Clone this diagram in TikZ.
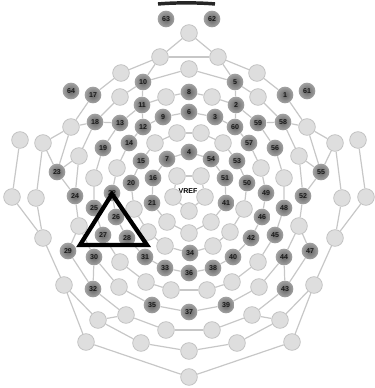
\documentclass[tikz,border=0pt]{standalone}
\usepackage{fontspec}
\setsansfont{Liberation Sans}
\usetikzlibrary{backgrounds}
\begin{document}
\begin{tikzpicture}[x=0.75pt,y=-0.75pt,
  lab/.style={circle, minimum size=12.5pt, inner sep=0pt, inner color=black!60, outer color=black!36,
    font=\sffamily\bfseries\fontsize{5.3}{6}\selectfont, text=black!90},
  unl/.style={circle, minimum size=12.5pt, inner sep=0pt, fill=black!13, draw=black!24, line width=0.6pt},
  wire/.style={draw=black!22, line width=0.9pt},
  tri/.style={draw=black, line width=3.2pt, line join=miter},
  nose/.style={draw=black!85, line width=2.6pt}]
\useasboundingbox (0,0) rectangle (374,388);
% centre column
\node[unl] (T) at (189,33) {};
\node[unl] (c69) at (189,69) {};
\node[lab] (c8) at (189,92) {8};
\node[lab] (c6) at (189,112) {6};
\node[lab] (c4) at (189,152) {4};
\node[font=\sffamily\bfseries\fontsize{5.3}{6}\selectfont, inner sep=0.5pt] (vref) at (188,191) {VREF};
\node[unl] (c211) at (189,211) {};
\node[unl] (c233) at (189,233) {};
\node[lab] (c34) at (190,253) {34};
\node[lab] (c36) at (189,273) {36};
\node[lab] (c37) at (189,312) {37};
\node[unl] (c350) at (189,351) {};
\node[unl] (c377) at (189,377) {};
% labelled pairs: key(left label)/right label/x/y
\foreach \k/\r/\x/\y in {10/5/143/82, 11/2/142/105, 9/3/163/117, 12/60/143/127, 13/59/120/123,
  17/1/93/95, 64/61/71/91, 18/58/95/122, 14/57/129/143, 19/56/103/148, 7/54/167/159,
  15/53/141/161, 16/51/153/178, 20/50/131/183, 23/55/57/172, 22/49/112/193, 24/52/75/196,
  21/41/152/203, 26/46/116/217, 25/48/94/208, 28/42/127/238, 27/45/103/235, 29/47/68/251,
  30/44/94/257, 31/40/145/257, 33/38/165/268, 32/43/93/289, 35/39/152/305, 63/62/166/19}{
  \node[lab] (L-\k) at (\x,\y) {\k};
  \node[lab] (R-\k) at ({378-\x},\y) {\r};
}
% unlabelled pairs
\foreach \k/\x/\y in {uA/160/57, uB/121/73, uC/120/97, uD/166/97, uE/71/127, uF/20/140, uG/43/143,
  uH/155/143, uI/177/133, uJ/79/156, uK/117/168, uL/94/178, uM/177/176, uN/12/197, uO/36/198,
  uP/173/197, uQ/134/209, uR/79/226, uS/167/222, uT/148/232, uU/43/238, uV/120/262, uW/165/246,
  uX/64/285, uY/119/287, uZ/146/282, ua/171/290, ub/126/315, uc/98/320, ud/166/330, ue/86/342,
  uf/141/343}{
  \node[unl] (L-\k) at (\x,\y) {};
  \node[unl] (R-\k) at ({378-\x},\y) {};
}
\begin{scope}[on background layer]
\draw[wire] (L-uM) -- (R-uM) (L-ua) -- (R-ua) (L-uA) -- (R-uA) (L-ud) -- (R-ud) (L-uI) -- (R-uI);
\foreach \S in {L,R}{
  \draw[wire] (\S-uM) -- (\S-uP) -- (c211);
  \draw[wire] (c4) -- (\S-7) -- (\S-16) -- (\S-21) -- (\S-uS) -- (c233);
  \draw[wire] (\S-uI) -- (\S-uH) -- (\S-15) -- (\S-20) -- (\S-uQ) -- (\S-uT) -- (\S-uW) -- (c34);
  \draw[wire] (c6) -- (\S-9) -- (\S-12) -- (\S-14) -- (\S-uK) -- (\S-22) -- (\S-26) -- (\S-28) -- (\S-31) -- (\S-33) -- (c36);
  \draw[wire] (c8) -- (\S-uD) -- (\S-11) -- (\S-13) -- (\S-19) -- (\S-uL) -- (\S-25) -- (\S-27) -- (\S-uV) -- (\S-uZ) -- (\S-ua);
  \draw[wire] (c69) -- (\S-10) -- (\S-uC) -- (\S-18) -- (\S-uJ) -- (\S-24) -- (\S-uR) -- (\S-30) -- (\S-uY) -- (\S-35) -- (c37);
  \draw[wire] (T) -- (\S-uA) -- (\S-uB) -- (\S-17) -- (\S-uE) -- (\S-23) -- (\S-24);
  \draw[wire] (\S-uR) -- (\S-29) -- (\S-32) -- (\S-ub) -- (\S-ud);
  \draw[wire] (\S-uE) -- (\S-uG) -- (\S-23);
  \draw[wire] (\S-uF) -- (\S-uN) -- (\S-uU) -- (\S-uO) -- (\S-uG);
  \draw[wire] (\S-uU) -- (\S-uX) -- (\S-ue) -- (c377);
  \draw[wire] (\S-uX) -- (\S-uc) -- (\S-uf) -- (c350);
  \draw[wire] (\S-10) -- (\S-11) -- (\S-12);
  \draw[wire] (\S-10) -- (\S-uA);
  \draw[wire] (\S-13) -- (\S-18) -- (\S-uE);
  \draw[wire] (\S-23) -- (\S-uJ);
  \draw[wire] (\S-30) -- (\S-32);
  \draw[wire] (\S-uc) -- (\S-ub);
}
\end{scope}
% triangle
\coordinate (ta) at (112,194);
\coordinate (tb) at (80,245);
\coordinate (tc) at (147,245);
\draw[tri] (ta) -- (tb) -- (tc) -- cycle;
% top mark
\coordinate (m1) at (158,4);
\coordinate (m2) at (215,4);
\draw[nose] (m1) .. controls (175,2.5) and (198,2.5) .. (m2);
\end{tikzpicture}
\end{document}
